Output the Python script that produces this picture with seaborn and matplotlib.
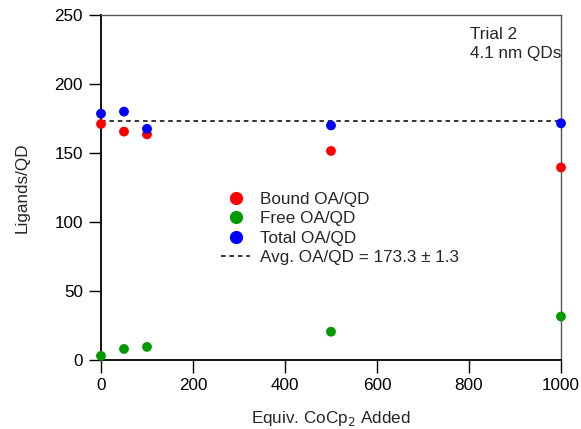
import matplotlib
matplotlib.use("Agg")
import matplotlib.pyplot as plt
from matplotlib.lines import Line2D
import seaborn as sns
import pandas as pd

equiv = [0, 50, 100, 500, 1000]
bound = [171.0, 165.5, 163.5, 151.5, 139.5]
free = [3.0, 8.0, 9.5, 20.5, 31.5]
total = [178.5, 180.0, 167.5, 170.0, 171.5]
avg = 173.3
series_names = ["Bound OA/QD", "Free OA/QD", "Total OA/QD"]
colors = ["#ff0000", "#009a00", "#0000ff"]

df = pd.DataFrame({
    "x": equiv * 3,
    "y": bound + free + total,
    "series": [series_names[0]] * 5 + [series_names[1]] * 5 + [series_names[2]] * 5,
})

sns.set_style("ticks")
plt.rcParams['font.family'] = ['Liberation Sans', 'DejaVu Sans']

fig = plt.figure(figsize=(5.81, 4.29), dpi=100)
ax = fig.add_axes([101/581, 1-360/429, (561-101)/581, (360-15)/429])

sns.scatterplot(data=df, x="x", y="y", hue="series", palette=dict(zip(series_names, colors)),
                s=50, edgecolor="none", ax=ax, legend=False, clip_on=False, zorder=3)
ax.plot([0, 1000], [avg, avg], ls=(0, (3, 2.5)), color="black", lw=1.1, zorder=2)

ax.set_xlim(0, 1000)
ax.set_ylim(0, 250)
ax.set_xticks([0, 200, 400, 600, 800, 1000])
ax.set_yticks([0, 50, 100, 150, 200, 250])
ax.tick_params(axis="both", direction="out", length=9, width=1, labelsize=12.3, colors="black", pad=4)
ax.set_xlabel("Equiv. CoCp$_2$ Added", fontsize=12.3, labelpad=11.5)
ax.set_ylabel("Ligands/QD", fontsize=12.3, labelpad=18)

for side in ["left", "bottom"]:
    ax.spines[side].set_linewidth(1.3)
    ax.spines[side].set_color("black")
for side in ["top", "right"]:
    ax.spines[side].set_visible(True)
    ax.spines[side].set_linewidth(1.0)
    ax.spines[side].set_color("#555555")

handles = [Line2D([], [], marker="o", ls="none", color=c, markersize=8.5) for c in colors]
handles.append(Line2D([], [], ls=(0, (3, 2.5)), color="black", lw=1.1))
labels = series_names + [f"Avg. OA/QD = {avg} ± 1.3"]
ax.legend(handles, labels, loc="upper left", bbox_to_anchor=(0.261, 0.488), frameon=False,
          fontsize=12.3, handlelength=1.7, handletextpad=0.6, labelspacing=0.27, borderpad=0,
          borderaxespad=0)

ax.text(0.802, 0.965, "Trial 2\n4.1 nm QDs", transform=ax.transAxes, ha="left", va="top",
        fontsize=12.3, linespacing=1.3)

fig.savefig("out.png", dpi=100)
